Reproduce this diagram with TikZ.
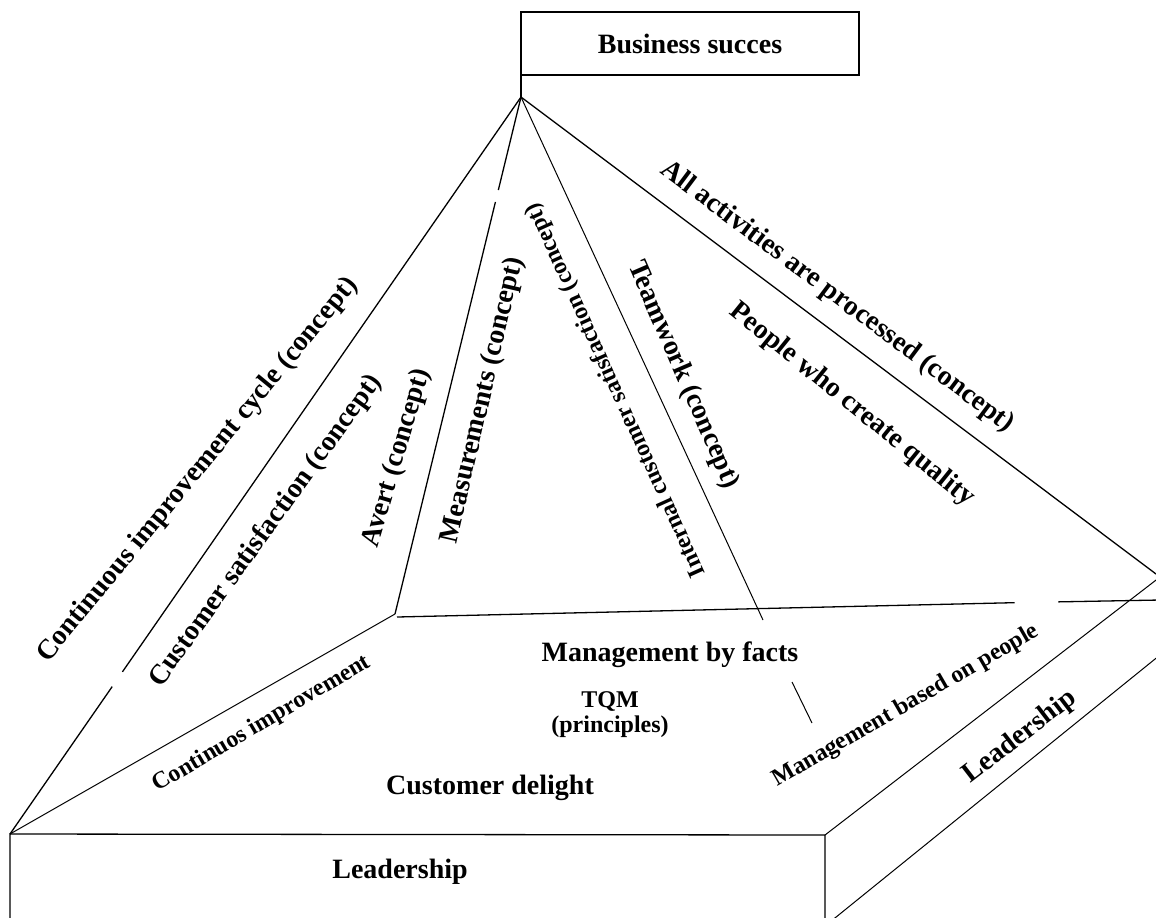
\documentclass[tikz,border=0pt]{standalone}
\usepackage{fontspec}
\setmainfont{Liberation Serif}
\usetikzlibrary{calc}

\begin{document}
\begin{tikzpicture}[
    x=0.5pt, y=-0.5pt,
    edge/.style = {line width=0.65pt},
    faint/.style = {line width=0.5pt},
    bigtext/.style = {font=\bfseries\fontsize{14}{16}\selectfont, inner sep=0pt},
    midtext/.style = {font=\bfseries\fontsize{12}{14}\selectfont, inner sep=0pt},
    smalltext/.style = {font=\bfseries\fontsize{12}{12.5}\selectfont, inner sep=0pt, align=center},
    headbox/.style = {draw, line width=0.9pt, minimum width=169pt, minimum height=31.5pt, inner sep=0pt, outer sep=0pt, font=\bfseries\fontsize{14}{16}\selectfont}
]
    \useasboundingbox (0,0) rectangle (1156,917);
    \clip (0,0) rectangle (1156,917);

    % corners of the pyramid and the base
    \coordinate (apex) at (521,97);
    \coordinate (bl) at (10,834);
    \coordinate (il) at (395,614);
    \coordinate (rc) at (1156,574);
    \coordinate (br) at (825,835);
    \coordinate (brlow) at (825,926);
    \coordinate (hr) at (1160,600);
    \coordinate (rtop) at (1160,577);
    \coordinate (rlow) at (1160,655);
    \coordinate (twend) at (763,620);
    \coordinate (twa) at (792,682);
    \coordinate (twb) at (812,723);

    \node[headbox, anchor=south west] (goal) at (521,75) {Business succes};
    \draw[edge] (goal.south west) -- (apex);

    % pyramid edges
    \draw[edge] (apex) -- ($(apex)!0.78!(bl)$) ($(apex)!0.80!(bl)$) -- (bl);
    \draw[edge] (apex) -- ($(apex)!0.18!(il)$) ($(apex)!0.203!(il)$) -- (il);
    \draw[faint] (apex) -- (twend);
    \draw[faint] (twa) -- (twb);
    \draw[edge] (apex) -- (rc);
    \draw[faint] (bl) -- (il);
    \draw[edge] ($(il)+(2,3)$) -- ($(il)!0.81!(hr)$) ($(il)!0.867!(hr)$) -- (hr);

    % base block
    \draw[edge] (10,940) -- (bl) -- (br) -- (825,940);
    \draw[faint] (br) -- (rtop);
    \draw[faint] (brlow) -- (rlow);

    % texts on the faces
    \node[bigtext, rotate=50.6] (cycle) at (198,470) {Continuous improvement cycle (concept)};
    \node[bigtext, rotate=54.2] (custsat) at (266,531) {Customer satisfaction (concept)};
    \node[bigtext, rotate=73.5] (avert) at (397,458) {Avert (concept)};
    \node[bigtext, rotate=77] (measure) at (483,400) {Measurements (concept)};
    \node[midtext, rotate=114.3] (internal) at (616,390) {Internal customer satisfaction (concept)};
    \node[bigtext, rotate=-66.6] (team) at (683,375) {Teamwork (concept)};
    \node[bigtext, rotate=-36.8] (activ) at (837,297) {All activities are processed (concept)};
    \node[bigtext, rotate=-39] (people) at (852,405) {People who create quality};

    \node[bigtext] (facts) at (670,655) {Management by facts};
    \node[smalltext] (tqm) at (610,715) {TQM\\(principles)};
    \node[midtext, rotate=30.5] (contimp) at (262,724) {Continuos improvement};
    \node[bigtext] (delight) at (490,788) {Customer delight};
    \node[midtext, rotate=30] (mbop) at (906,706) {Management based on people};
    \node[bigtext, rotate=37.5] (leadside) at (1020,737) {Leadership};
    \node[bigtext] (leadfront) at (400,872) {Leadership};
\end{tikzpicture}
\end{document}
